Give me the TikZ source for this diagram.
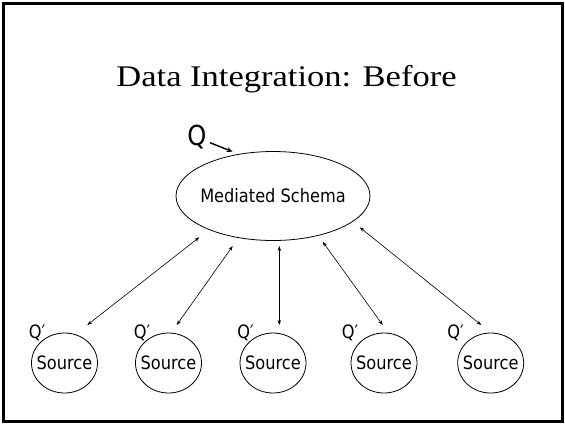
\documentclass[tikz,border=0pt]{standalone}
\usepackage{fontspec}
\setmainfont{Liberation Serif}
\newfontfamily\tahfont[FakeStretch=0.88]{DejaVu Sans}
\newfontfamily\titlefont[FakeStretch=1.15]{Liberation Serif}
\usetikzlibrary{arrows.meta,shapes.geometric}
\begin{document}
\begin{tikzpicture}[x=1pt,y=-1pt,
  frame/.style={draw=black,line width=3pt},
  lbl/.style={font=\tahfont\fontsize{18.4}{22}\selectfont,inner sep=0pt},
  srcnode/.style={draw,ellipse,line width=0.8pt,minimum width=66pt,minimum height=60pt,inner xsep=-5pt,inner ysep=0pt,font=\tahfont\fontsize{18.4}{22}\selectfont},
  msnode/.style={draw,ellipse,line width=0.8pt,minimum width=194pt,minimum height=89pt,inner xsep=-5pt,inner ysep=0pt,font=\tahfont\fontsize{18.4}{22}\selectfont},
  link/.style={line width=0.6pt,{Stealth[length=5pt,width=3.5pt]}-{Stealth[length=5pt,width=3.5pt]}},
  qarrow/.style={line width=1.4pt,-{Stealth[length=6pt,width=5pt]}}]
\useasboundingbox (0,0) rectangle (565,424);
\draw[frame] (3,3) rectangle (562,421.5);

\node[anchor=base,inner sep=0pt,font=\titlefont\fontsize{30}{36}\selectfont] (title) at (286.5,86.7) {Data Integration: Before};

\node[lbl,anchor=base,font=\tahfont\fontsize{27.5}{32}\selectfont] (q) at (197,145) {Q};
\node[msnode] (ms) at (273,196) {Mediated Schema};

\node[srcnode] (s1) at (64.5,363) {Source};
\node[srcnode] (s2) at (168.5,363) {Source};
\node[srcnode] (s3) at (273,363) {Source};
\node[srcnode] (s4) at (384,363) {Source};
\node[srcnode] (s5) at (490.7,363) {Source};

\node[lbl,anchor=base] (p1) at (37,338) {Q′};
\node[lbl,anchor=base] (p2) at (142,338) {Q′};
\node[lbl,anchor=base] (p3) at (245.5,338) {Q′};
\node[lbl,anchor=base] (p4) at (350,338) {Q′};
\node[lbl,anchor=base] (p5) at (455.5,338) {Q′};

\coordinate (qs) at (210,142.7);
\coordinate (qe) at (232.7,151.7);
\draw[qarrow] (qs) -- (qe);

\coordinate (m1) at (199.3,237.3);
\coordinate (m2) at (232.7,246);
\coordinate (m3) at (279.3,246);
\coordinate (m4) at (322.7,241.7);
\coordinate (m5) at (359.7,227.3);
\coordinate (t1) at (87.3,325);
\coordinate (t2) at (176.7,325);
\coordinate (t3) at (279.3,325);
\coordinate (t4) at (382.7,325);
\coordinate (t5) at (481.3,325);
\draw[link] (m1) -- (t1);
\draw[link] (m2) -- (t2);
\draw[link] (m3) -- (t3);
\draw[link] (m4) -- (t4);
\draw[link] (m5) -- (t5);
\end{tikzpicture}
\end{document}
